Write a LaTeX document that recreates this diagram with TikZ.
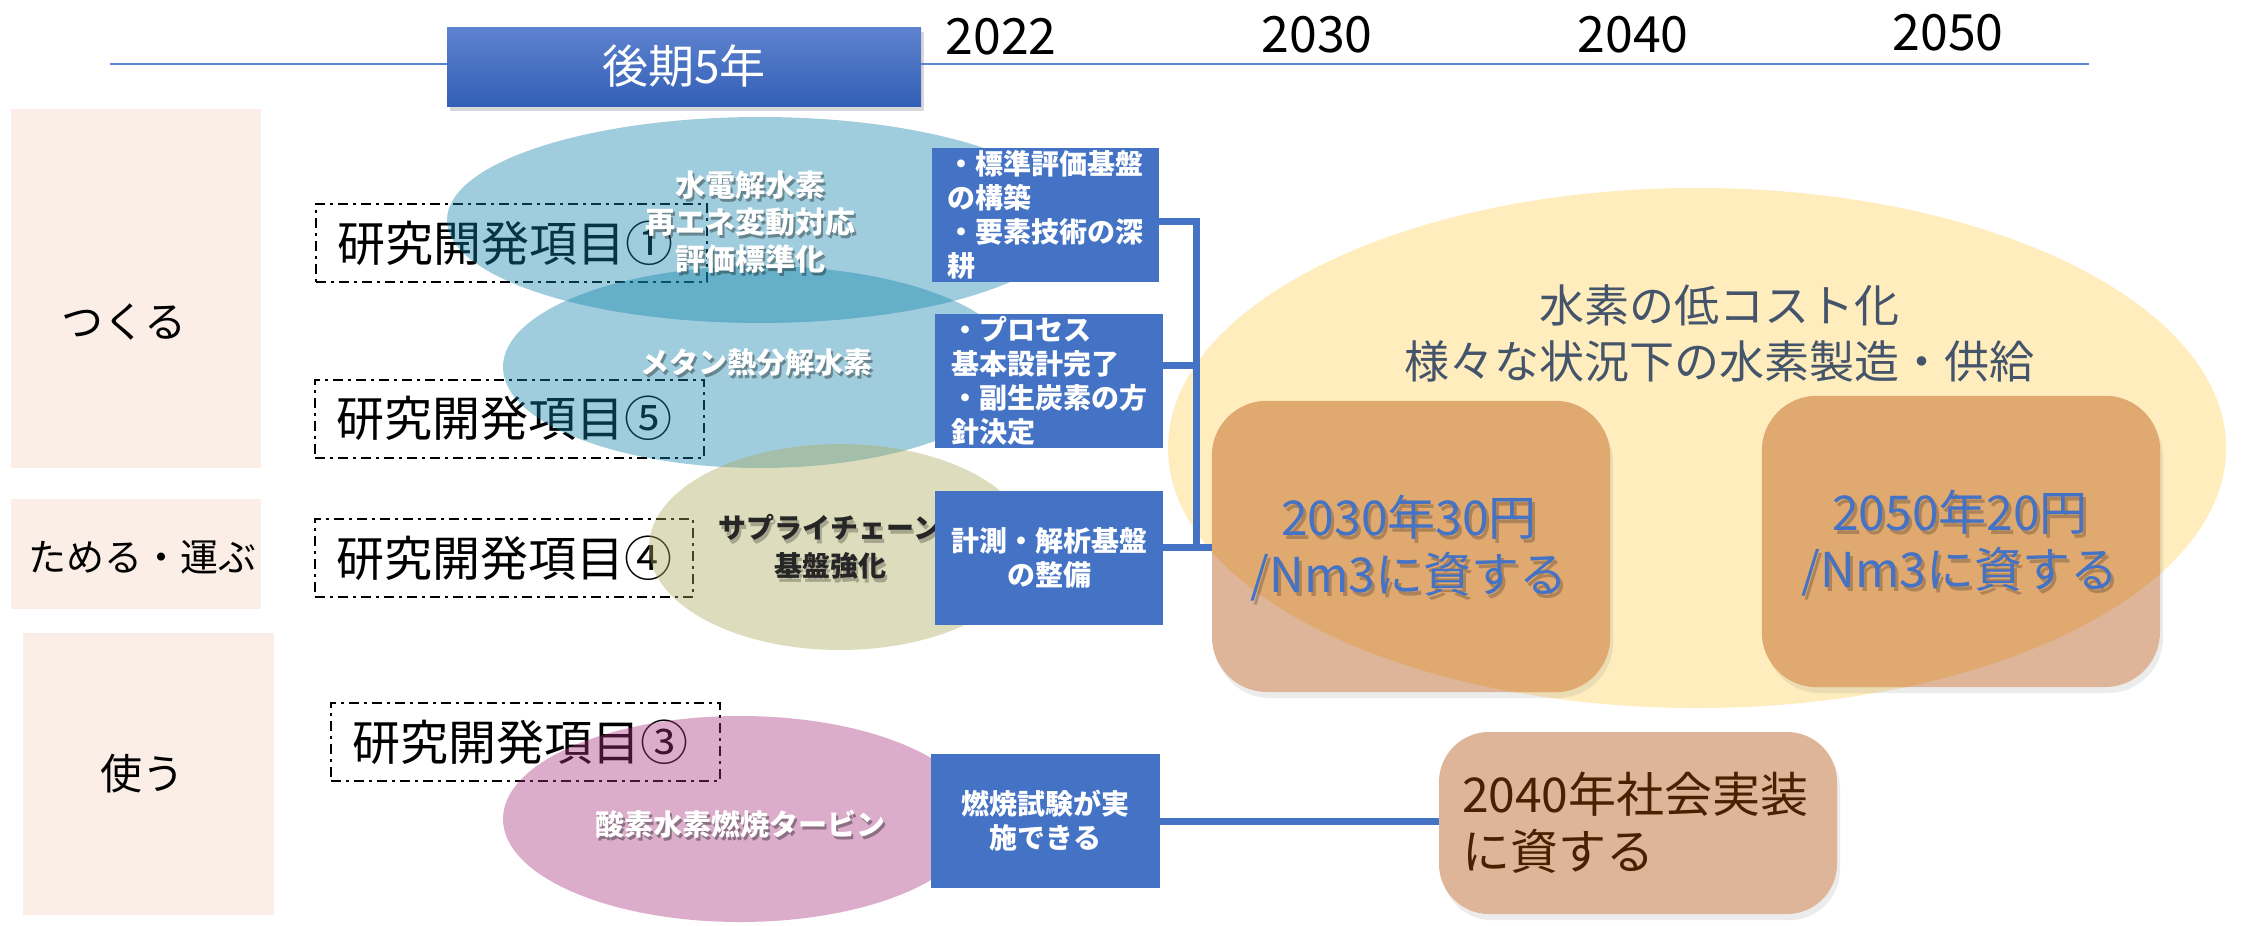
\documentclass[tikz,border=0pt]{standalone}
\usepackage{fontspec}
\setmainfont{Noto Sans CJK JP}
\usetikzlibrary{shapes.geometric,shadows}
\definecolor{cblue}{HTML}{4472C4}
\definecolor{tlblue}{HTML}{5B84D4}
\definecolor{hdrtop}{HTML}{5E83CF}
\definecolor{hdrbot}{HTML}{335FB6}
\definecolor{catfill}{HTML}{FBEEE6}
\definecolor{ellB}{RGB}{17,130,170}
\definecolor{ellY}{RGB}{170,172,92}
\definecolor{ellP}{RGB}{167,52,127}
\definecolor{yel}{HTML}{FFEDBE}
\definecolor{orgA}{HTML}{E0A970}
\definecolor{orgB}{HTML}{DEB598}
\definecolor{slate}{HTML}{44546A}
\definecolor{cbrown}{HTML}{4A2100}
\newcommand{\fsz}[2]{\fontsize{#1}{#2}\selectfont}
\tikzset{
  tline/.style={draw=tlblue, line width=2pt},
  hdr/.style={top color=hdrtop, bottom color=hdrbot, text=white, font=\fsz{46}{55},
    minimum width=474pt, minimum height=79pt, inner sep=0pt,
    drop shadow={opacity=0.3, shadow xshift=3pt, shadow yshift=-5pt}},
  year/.style={font=\fsz{50}{60}, inner sep=0pt},
  catbox/.style={fill=catfill, inner sep=0pt},
  cattext/.style={font=\fsz{42}{50}, inner sep=0pt},
  dbox/.style={draw=black, line width=2pt, dash pattern=on 10pt off 5pt on 3pt off 5pt,
    inner xsep=21pt, inner ysep=0pt, align=left, font=\fsz{48}{58}, minimum height=78pt},
  ell/.style={ellipse, fill opacity=0.4, inner sep=0pt},
  etext/.style={font=\bfseries\fsz{30}{37}, align=center, inner sep=0pt, text=white},
  eshadow/.style={font=\bfseries\fsz{30}{37}, align=center, inner sep=0pt, text=black, text opacity=0.35},
  bbox/.style={fill=cblue, text=white, font=\bfseries\fsz{28}{34}, minimum height=134pt, inner sep=0pt},
  conn/.style={draw=cblue, line width=7pt},
  rbox/.style={fill=orgB, rounded corners=55pt, inner sep=0pt,
    drop shadow={opacity=0.15, shadow xshift=3pt, shadow yshift=-6pt}},
  bigtxt/.style={font=\fsz{48}{57}, align=center, inner sep=0pt},
}
\begin{document}
\begin{tikzpicture}[x=1pt,y=-1pt]
\useasboundingbox (0,0) rectangle (2259,926);
\fill[white] (0,0) rectangle (2259,926);

% timeline
\coordinate (tlA) at (110,64);
\coordinate (tlB) at (2089,64);
\draw[tline] (tlA) -- (tlB);
\node[hdr] (hdr) at (684,66.5) {後期5年};

% years
\node[year] (y2022) at (1001,37) {2022};
\node[year] (y2030) at (1317,35) {2030};
\node[year] (y2040) at (1633,35) {2040};
\node[year] (y2050) at (1948,33) {2050};

% categories
\node[catbox, minimum width=250pt, minimum height=359pt] (catA) at (136,288.5) {};
\node[cattext] (catAt) at (124,322) {つくる};
\node[catbox, minimum width=250pt, minimum height=110pt] (catB) at (136,554) {};
\node[cattext, font=\fsz{38}{46}] (catBt) at (142,557) {ためる・運ぶ};
\node[catbox, minimum width=251pt, minimum height=282pt] (catC) at (148.5,774) {};
\node[cattext] (catCt) at (142,774) {使う};

% dashed boxes
\node[dbox, text width=349pt] (d1) at (511.5,243) {研究開発項目①};
\node[dbox, text width=347pt] (d5) at (509.5,418.5) {研究開発項目⑤};
\node[dbox, text width=336pt] (d4) at (504,558) {研究開発項目④};
\node[dbox, text width=347pt] (d3) at (525.5,742) {研究開発項目③};

% big yellow ellipse
\node[ellipse, fill=yel, minimum width=1058pt, minimum height=520pt, inner sep=0pt] (ybig) at (1697,448) {};

% target boxes
\node[rbox, minimum width=398pt, minimum height=291pt] (r2030) at (1411,546.5) {};
\node[rbox, minimum width=398pt, minimum height=291pt] (r2050) at (1961,541.5) {};
\begin{scope}
  \clip (1697,448) ellipse [x radius=529pt, y radius=260pt];
  \fill[orgA, rounded corners=55pt] (r2030.south west) rectangle (r2030.north east);
  \fill[orgA, rounded corners=55pt] (r2050.south west) rectangle (r2050.north east);
\end{scope}
\node[bigtxt, text=black, text opacity=0.22] (t2030s) at (1412,552) {2030年30円\\/Nm3に資する};
\node[bigtxt, text=cblue] (t2030) at (1409,548) {2030年30円\\/Nm3に資する};
\node[bigtxt, text=black, text opacity=0.22] (t2050s) at (1963,547) {2050年20円\\/Nm3に資する};
\node[bigtxt, text=cblue] (t2050) at (1960,543) {2050年20円\\/Nm3に資する};

\node[font=\fsz{45}{56}, align=center, text=slate, inner sep=0pt] (ytx) at (1719,333)
  {水素の低コスト化\\様々な状況下の水素製造・供給};

% ellipses
\node[ell, fill=ellB, minimum width=626pt, minimum height=206pt] (e1) at (760,220) {};
\node[ell, fill=ellB, minimum width=514pt, minimum height=202pt] (e2) at (760,367) {};
\node[ell, fill=ellY, minimum width=382pt, minimum height=206pt] (e3) at (840,547) {};
\node[ell, fill=ellP, minimum width=474pt, minimum height=206pt] (e4) at (740,819) {};

\node[eshadow] (e1s) at (752,225) {水電解水素\\再エネ変動対応\\評価標準化};
\node[etext] (e1t) at (750,222) {水電解水素\\再エネ変動対応\\評価標準化};
\node[eshadow, font=\bfseries\fsz{29}{36}] (e2s) at (758,366) {メタン熱分解水素};
\node[etext, font=\bfseries\fsz{29}{36}] (e2t) at (756,363) {メタン熱分解水素};
\node[eshadow, font=\bfseries\fsz{28}{38}, text opacity=0.25] (e3s) at (832,551) {サプライチェーン\\基盤強化};
\node[etext, font=\bfseries\fsz{28}{38}, text=black!85] (e3t) at (830,547) {サプライチェーン\\基盤強化};
\node[eshadow, font=\bfseries\fsz{29}{36}] (e4s) at (742,827) {酸素水素燃焼タービン};
\node[etext, font=\bfseries\fsz{29}{36}] (e4t) at (740,824) {酸素水素燃焼タービン};

% blue boxes
\node[bbox, minimum width=227pt, align=left] (b1) at (1045.5,215) {・標準評価基盤\\の構築\\・要素技術の深\\耕};
\node[bbox, minimum width=228pt, align=left] (b2) at (1049,381) {・プロセス\\基本設計完了\\・副生炭素の方\\針決定};
\node[bbox, minimum width=228pt, align=center] (b3) at (1049,558) {計測・解析基盤\\の整備};
\node[bbox, minimum width=229pt, align=center] (b4) at (1045.5,821) {燃焼試験が実\\施できる};

% 2040 box
\node[rbox, rounded corners=50pt, minimum height=182pt, text width=352pt, inner xsep=23pt,
  align=left, font=\fsz{48}{57}, text=cbrown] (r2040) at (1638,823) {2040年社会実装\\に資する};

% connectors
\coordinate (j1) at (1196,221);
\coordinate (j2) at (1196,365);
\coordinate (j3) at (1196,547);
\draw[conn] (b1.east |- j1) -- (j1) -- (j3);
\draw[conn] (b2.east |- j2) -- (j2);
\draw[conn] (b3.east |- j3) -- (r2030.west |- j3);
\draw[conn] (b4.east) -- (r2040.west |- b4.east);
\end{tikzpicture}
\end{document}
